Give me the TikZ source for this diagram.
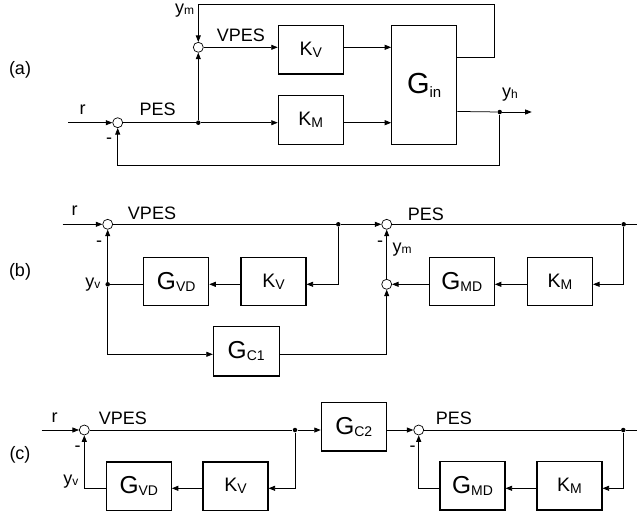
\documentclass[tikz,border=0pt]{standalone}
\usepackage{fontspec}
\setmainfont{Liberation Sans}
\usetikzlibrary{positioning,arrows.meta,calc}
\tikzset{
  blockbox/.style={draw,line width=1.1pt,inner sep=0pt,minimum width=65pt,minimum height=48.4pt},
  sumjn/.style={circle,draw,line width=0.7pt,minimum size=10pt,inner sep=0pt},
  junc/.style={circle,fill,minimum size=4.5pt,inner sep=0pt},
  lbl/.style={font=\fontsize{18}{20}\selectfont,inner sep=0pt},
}
\newcommand{\Kb}[1]{{\fontsize{19.5}{20}\selectfont K}\raisebox{-2pt}{\fontsize{14}{14}\selectfont #1}}
\newcommand{\Gb}[1]{{\fontsize{24.5}{25}\selectfont G}\raisebox{-2pt}{\fontsize{14}{14}\selectfont #1}}
\newcommand{\ysig}[1]{y\raisebox{-1pt}{\fontsize{12}{12}\selectfont #1}}

\begin{document}
\begin{tikzpicture}[x=1pt,y=-1pt,line width=0.75pt,>={Triangle[length=6.5pt,width=5pt]}]
\useasboundingbox (0,0) rectangle (637,517);

% (a)
\node[lbl] at (20,70) {(a)};
\coordinate (ain) at (68,122.7);
\node[sumjn] (sa1) at (117.7,122.7) {};
\node[junc] (ja) at (198.3,122.7) {};
\node[sumjn] (sa2) at (198.3,47.3) {};
\node[blockbox] (kva) at (310.8,49.8) {\Kb{V}};
\node[blockbox] (kma) at (310.8,120) {\Kb{M}};
\node[blockbox,minimum height=118.6pt] (gin) at (424.2,85)
  {{\fontsize{29}{29}\selectfont G}\raisebox{-4pt}{\fontsize{15}{15}\selectfont in}};
\coordinate (gina) at ($(gin.north east)+(0,32)$);
\coordinate (ginb) at ($(gin.north east)+(0,86.3)$);
\node[junc] (ya) at (499.7,112) {};
\coordinate (yout) at (531.7,112);
\coordinate (ta) at (494,4);
\coordinate (fa) at (499.7,165.7);

\draw[->] (ain) -- (sa1);
\draw (sa1) -- (ja);
\draw[->] (ja) -- (sa2);
\draw[->] (ja) -- (ja -| kma.west);
\draw[->] (sa2) -- (sa2 -| kva.west);
\draw[->] (sa2 -| kva.east) -- (sa2 -| gin.west);
\draw[->] (ja -| kma.east) -- (ja -| gin.west);
\draw[->] (gina) -| (ta) -| (sa2);
\draw (ginb) -- (ya);
\draw[->] (ya) -- (yout);
\draw[->] (ya) -- (fa) -| (sa1);

\node[lbl] at (82.5,110) {r};
\node[lbl] at (157.7,109.3) {PES};
\node[lbl] at (240.8,35) {VPES};
\node[lbl] at (184.5,10.5) {\ysig{m}};
\node[lbl] at (109,141) {-};
\node[lbl] at (510,95) {\ysig{h}};

% (b)
\node[lbl] at (20,271.7) {(b)};
\coordinate (bin) at (62.7,224.3);
\node[sumjn] (sb1) at (107.7,224.3) {};
\node[junc] (jb1) at (338.3,224.3) {};
\node[sumjn] (sb2) at (386.7,224.3) {};
\node[junc] (jb2) at (623.7,224.3) {};
\coordinate (bout) at (637,224.3);
\node[blockbox] (gvdb) at (176.2,281.5) {\Gb{VD}};
\node[blockbox] (kvb) at (273.5,281.5) {\Kb{V}};
\node[junc] (yvb) at (107.7,284.3) {};
\node[blockbox,minimum height=49.3pt,minimum width=65.7pt] (gc1) at (246.2,351.3) {\Gb{C1}};
\coordinate (cb) at (107.7,354.3);
\node[sumjn] (sb3) at (386.7,284.3) {};
\node[blockbox] (gmdb) at (461.8,281.5) {\Gb{MD}};
\node[blockbox] (kmb) at (560,281.5) {\Kb{M}};

\draw[->] (bin) -- (sb1);
\draw (sb1) -- (jb1);
\draw[->] (jb1) -- (sb2);
\draw (sb2) -- (jb2) -- (bout);
\draw[->] (jb1) |- (kvb.east |- yvb);
\draw[->] (kvb.west |- yvb) -- (gvdb.east |- yvb);
\draw (gvdb.west |- yvb) -- (yvb);
\draw[->] (yvb) -- (sb1);
\draw[->] (yvb) |- (gc1.west |- cb);
\draw[->] (gc1.east |- cb) -| (sb3);
\draw[->] (jb2) |- (kmb.east |- sb3);
\draw[->] (kmb.west |- sb3) -- (gmdb.east |- sb3);
\draw[->] (gmdb.west |- sb3) -- (sb3);
\draw[->] (sb3) -- (sb2);

\node[lbl] at (74.7,211) {r};
\node[lbl] at (152,213) {VPES};
\node[lbl] at (99,243.3) {-};
\node[lbl] at (92.8,285) {\ysig{v}};
\node[lbl] at (425.8,214) {PES};
\node[lbl] at (380,243.3) {-};
\node[lbl] at (402,249.5) {\ysig{m}};

% (c)
\node[lbl] at (20,455) {(c)};
\coordinate (cin) at (41.7,430);
\node[sumjn] (sc1) at (84.3,430) {};
\node[junc] (jc1) at (295,430) {};
\node[blockbox] (gc2) at (353.8,426.8) {\Gb{C2}};
\node[sumjn] (sc2) at (418.7,430) {};
\node[junc] (jc2) at (623.3,430) {};
\coordinate (cout) at (637,430);
\node[blockbox] (gvdc) at (138.8,486.2) {\Gb{VD}};
\node[blockbox] (kvc) at (235.5,486.2) {\Kb{V}};
\node[blockbox] (gmdc) at (472.5,485.8) {\Gb{MD}};
\node[blockbox] (kmc) at (569.5,485.8) {\Kb{M}};
\coordinate (rc1) at (84.3,488.3);
\coordinate (rc2) at (418.7,488.3);

\draw[->] (cin) -- (sc1);
\draw (sc1) -- (jc1);
\draw[->] (jc1) -- (jc1 -| gc2.west);
\draw[->] (gc2.east |- sc2) -- (sc2);
\draw (sc2) -- (jc2) -- (cout);
\draw[->] (jc1) |- (kvc.east |- rc1);
\draw[->] (kvc.west |- rc1) -- (gvdc.east |- rc1);
\draw[->] (gvdc.west |- rc1) -| (sc1);
\draw[->] (jc2) |- (kmc.east |- rc2);
\draw[->] (kmc.west |- rc2) -- (gmdc.east |- rc2);
\draw[->] (gmdc.west |- rc2) -| (sc2);

\node[lbl] at (54.7,418) {r};
\node[lbl] at (122.8,418.7) {VPES};
\node[lbl] at (77.7,448.3) {-};
\node[lbl] at (70.8,481.7) {\ysig{v}};
\node[lbl] at (453.8,418.7) {PES};
\node[lbl] at (412.7,448.3) {-};
\end{tikzpicture}
\end{document}
